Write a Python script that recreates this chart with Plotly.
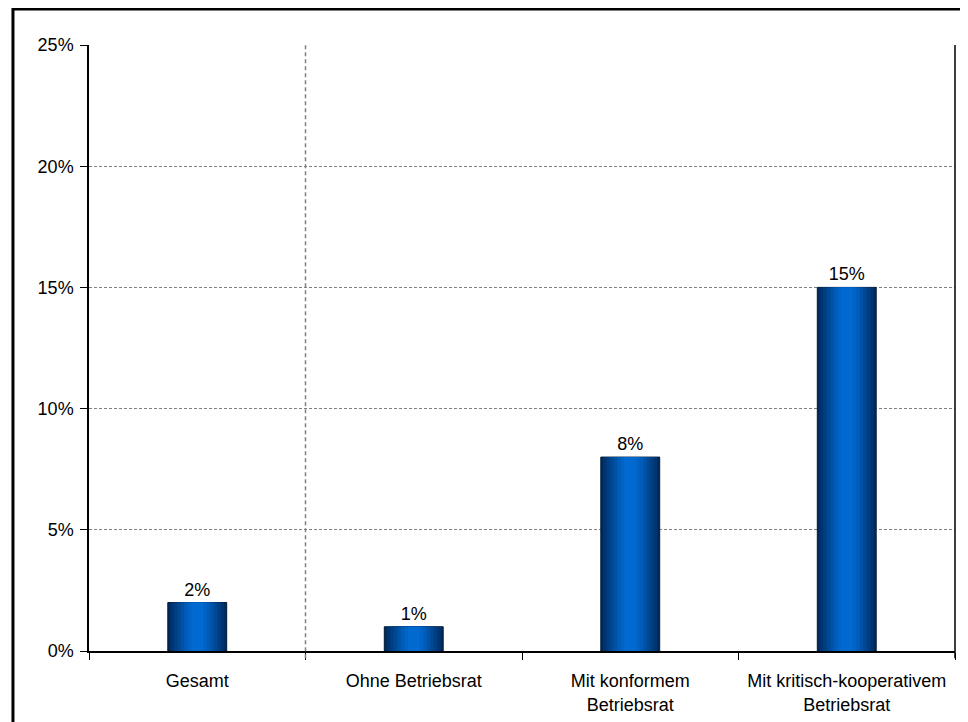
import plotly.graph_objects as go

categories = ["Gesamt", "Ohne Betriebsrat", "Mit konformem<br>Betriebsrat",
              "Mit kritisch-kooperativem<br>Betriebsrat"]
values = [2, 1, 8, 15]
y_ticks = [0, 5, 10, 15, 20, 25]
y_tick_labels = ["0%", "5%", "10%", "15%", "20%", "25%"]

FONT = "Liberation Sans, Arial, sans-serif"
FS = 18
BAR_W = 0.272

fig = go.Figure()

# base bar with outline and labels
fig.add_trace(go.Bar(
    x=categories, y=values, width=BAR_W,
    marker=dict(color="#002a5c", line=dict(color="#001a33", width=1)),
    text=[f"{v}%" for v in values], textposition="outside",
    textfont=dict(family=FONT, size=FS, color="black"),
    cliponaxis=False, showlegend=False, hoverinfo="skip",
))

# simulated cylinder gradient with narrower overlaid bars
grad = [
    (0.92, "#003470"),
    (0.80, "#003e82"),
    (0.68, "#004894"),
    (0.56, "#0052a6"),
    (0.44, "#005cb8"),
    (0.32, "#0064c6"),
    (0.20, "#006ad0"),
]
for frac, col in grad:
    fig.add_trace(go.Bar(
        x=categories, y=values, width=BAR_W * frac,
        marker=dict(color=col, line=dict(width=0)),
        showlegend=False, hoverinfo="skip",
    ))

fig.update_layout(
    width=960, height=714,
    margin=dict(l=81, r=13, t=37, b=71),
    paper_bgcolor="white", plot_bgcolor="white",
    barmode="overlay",
    font=dict(family=FONT, size=FS, color="black"),
    xaxis=dict(
        type="category", tickson="boundaries", ticks="outside", ticklen=7,
        tickcolor="black", showline=True, linecolor="black", linewidth=1.5,
        showgrid=False, ticklabelstandoff=13, automargin=False,
        tickfont=dict(family=FONT, size=FS, color="black"),
    ),
    yaxis=dict(
        range=[0, 25], tickvals=y_ticks, ticktext=y_tick_labels,
        ticks="outside", ticklen=7, tickcolor="black",
        showline=True, linecolor="black", linewidth=1.5,
        showgrid=True, gridcolor="#808080", gridwidth=1, griddash="3px,2px",
        zeroline=False, ticklabelstandoff=3, automargin=False,
        tickfont=dict(family=FONT, size=FS, color="black"),
    ),
    shapes=[
        # vertical dashed separator after "Gesamt"
        dict(type="line", xref="x", yref="paper", x0=0.5, x1=0.5, y0=-0.012, y1=1,
             line=dict(color="#808080", width=1.5, dash="4px,3px")),
        # right edge of plot area
        dict(type="line", xref="paper", yref="paper", x0=1, x1=1, y0=-0.012, y1=1,
             line=dict(color="black", width=1.5)),
        # outer frame
        dict(type="rect", xref="paper", yref="paper",
             x0=-0.0878, x1=1.03, y0=-0.13, y1=1.0594,
             line=dict(color="black", width=3), fillcolor="rgba(0,0,0,0)"),
    ],
)

fig.write_html("out.html")
